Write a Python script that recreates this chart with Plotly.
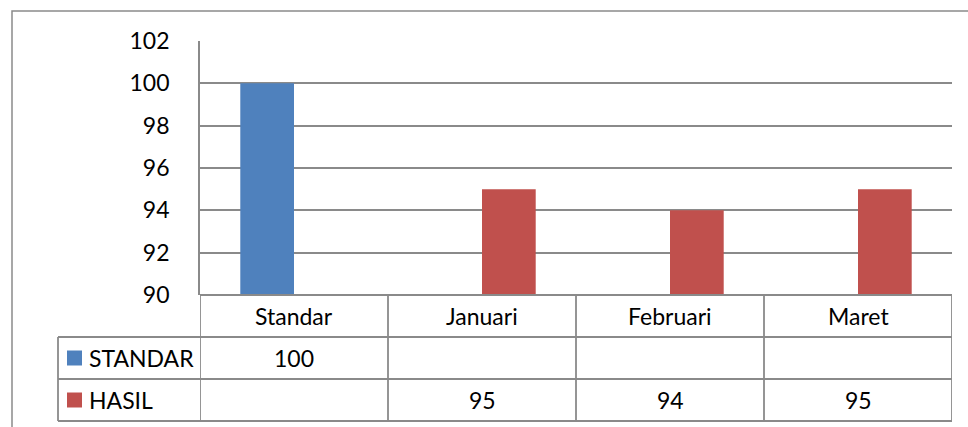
import plotly.graph_objects as go

categories = ["Standar", "Januari", "Februari", "Maret"]
series_names = ["STANDAR", "HASIL"]
standar_values = [100, None, None, None]
hasil_values = [None, 95, 94, 95]
y_ticks = [90, 92, 94, 96, 98, 100, 102]

W, H = 968, 427
L, R, T, B = 200, 952, 41, 295
pw, ph = R - L, B - T

def px_x(x):
    return (x - L) / pw

def px_y(y):
    return (B - y) / ph

BLUE = "#4F81BD"
RED = "#C0504D"
GRID = "#8a8a8a"
FONT = "Lato"
FS = 23

fig = go.Figure()
fig.add_trace(go.Bar(x=categories, y=standar_values, name=series_names[0],
                     marker=dict(color=BLUE, line=dict(width=0))))
fig.add_trace(go.Bar(x=categories, y=hasil_values, name=series_names[1],
                     marker=dict(color=RED, line=dict(width=0))))

shapes = []
line = dict(color=GRID, width=1.8)
# outer chart border
shapes.append(dict(type="rect", xref="paper", yref="paper",
                   x0=px_x(12), x1=px_x(975), y0=px_y(11), y1=px_y(440),
                   line=dict(color=GRID, width=1.5), fillcolor="rgba(0,0,0,0)", layer="below"))
rows_px = [295, 337, 379, 421]
# horizontal table lines
shapes.append(dict(type="line", xref="paper", yref="paper", x0=0, x1=1,
                   y0=px_y(295), y1=px_y(295), line=line))
for ypx in rows_px[1:]:
    shapes.append(dict(type="line", xref="paper", yref="paper", x0=px_x(58), x1=1,
                       y0=px_y(ypx), y1=px_y(ypx), line=line))
# vertical table lines at category boundaries
for i in range(len(categories) + 1):
    shapes.append(dict(type="line", xref="x", yref="paper", x0=i - 0.5, x1=i - 0.5,
                       y0=px_y(295), y1=px_y(421), line=line))
shapes.append(dict(type="line", xref="paper", yref="paper", x0=px_x(58), x1=px_x(58),
                   y0=px_y(337), y1=px_y(421), line=line))

annotations = []
for c in categories:
    annotations.append(dict(x=c, xref="x", y=px_y(316), yref="paper", text=c,
                            showarrow=False, font=dict(family=FONT, size=FS, color="black"),
                            xanchor="center", yanchor="middle"))
series = [(series_names[0], standar_values, BLUE), (series_names[1], hasil_values, RED)]
for r, (name, vals, col) in enumerate(series):
    yc = (rows_px[r + 1] + rows_px[r + 2]) / 2
    shapes.append(dict(type="rect", xref="paper", yref="paper",
                       x0=px_x(67), x1=px_x(82), y0=px_y(yc - 7.5), y1=px_y(yc + 7.5),
                       fillcolor=col, line=dict(width=0)))
    annotations.append(dict(x=px_x(87), xref="paper", y=px_y(yc), yref="paper", text=name,
                            showarrow=False, font=dict(family=FONT, size=FS, color="black"),
                            xanchor="left", yanchor="middle"))
    for c, v in zip(categories, vals):
        if v is not None:
            annotations.append(dict(x=c, xref="x", y=px_y(yc), yref="paper", text=str(v),
                                    showarrow=False, font=dict(family=FONT, size=FS, color="black"),
                                    xanchor="center", yanchor="middle"))

fig.update_layout(
    width=W, height=H,
    margin=dict(l=L, r=W - R, t=T, b=H - B, pad=0),
    paper_bgcolor="white", plot_bgcolor="white",
    barmode="group", bargap=0.4286, bargroupgap=0,
    showlegend=False,
    font=dict(family=FONT, size=FS, color="black"),
    shapes=shapes, annotations=annotations,
    xaxis=dict(range=[-0.5, len(categories) - 0.5], showticklabels=False, showgrid=False,
               zeroline=False, showline=False, ticks=""),
    yaxis=dict(range=[90, 102], tickvals=y_ticks, showgrid=True, gridcolor=GRID, gridwidth=1.8,
               zeroline=False, showline=True, linecolor=GRID, linewidth=1.8, ticks="",
               ticklabelstandoff=24, tickfont=dict(family=FONT, size=FS, color="black")),
)

fig.write_html("out.html", config={"displayModeBar": False},
               post_script="document.body.style.margin='0';document.body.style.overflow='hidden';")
